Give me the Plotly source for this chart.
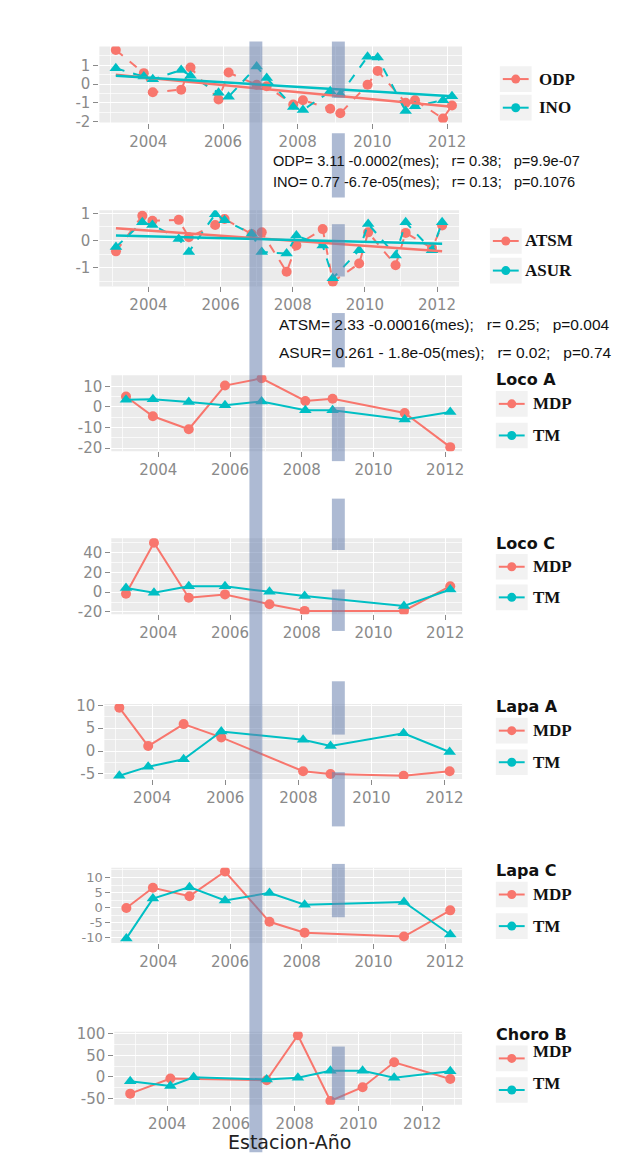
import plotly.graph_objects as go

W, H = 634, 1175
RED = '#F8766D'
TEAL = '#00BFC4'

# ---------------- data ----------------
p1_years = [2003.13, 2003.88, 2004.12, 2004.88, 2005.13, 2005.88, 2006.15, 2006.90, 2007.17, 2007.88,
            2008.14, 2008.87, 2009.14, 2009.87, 2010.14, 2010.89, 2011.14, 2011.89, 2012.13]
odp = [1.81, 0.58, -0.44, -0.30, 0.88, -0.82, 0.61, -0.04, -0.12, -1.09,
       -0.86, -1.32, -1.56, -0.04, 0.70, -1.00, -0.86, -1.84, -1.14]
ino = [0.84, 0.40, 0.25, 0.75, 0.44, -0.47, -0.68, 0.93, 0.32, -1.23,
       -1.39, -0.39, -0.56, 1.46, 1.42, -1.44, -1.18, -0.86, -0.65]
p1_trend_years = [2003.13, 2012.13]
odp_trend = [0.49, -1.21]
ino_trend = [0.44, -0.65]

p2_years = [2003.10, 2003.83, 2004.11, 2004.84, 2005.12, 2005.85, 2006.11, 2006.86, 2007.14, 2007.83,
            2008.10, 2008.83, 2009.11, 2009.84, 2010.09, 2010.85, 2011.13, 2011.86, 2012.14]
atsm = [-0.40, 0.91, 0.73, 0.76, 0.12, 0.57, 0.79, 0.24, 0.30, -1.15,
        -0.18, 0.42, -1.52, -0.85, 0.30, -0.91, 0.28, -0.28, 0.55]
asur = [-0.24, 0.67, 0.57, 0.06, -0.42, 0.97, 0.75, 0.24, -0.42, -0.48,
        0.18, -0.18, -1.39, -0.36, 0.61, -0.55, 0.67, -0.36, 0.67]
p2_trend_years = [2003.10, 2012.14]
atsm_trend = [0.45, -0.40]
asur_trend = [0.18, -0.12]

loco_a_years = [2003.10, 2003.85, 2004.85, 2005.86, 2006.88, 2008.10, 2008.86, 2010.87, 2012.14]
loco_a_mdp = [5.1, -4.5, -10.8, 10.4, 13.9, 2.9, 4.0, -2.9, -19.5]
loco_a_tm = [3.5, 3.7, 2.4, 0.8, 2.7, -1.6, -1.6, -6.1, -2.4]

loco_c_years = [2003.10, 2003.88, 2004.85, 2005.86, 2007.10, 2008.08, 2010.85, 2012.14]
loco_c_mdp = [-1.7, 50, -5.7, -2.3, -12.3, -19, -19, 6]
loco_c_tm = [4.3, -0.7, 6, 6, 0.3, -4, -14, 2.7]

lapa_a_years = [2003.10, 2003.89, 2004.86, 2005.89, 2008.13, 2008.88, 2010.88, 2012.14]
lapa_a_mdp = [9.5, 1.1, 5.9, 3.0, -4.4, -5.0, -5.4, -4.4]
lapa_a_tm = [-5.4, -3.4, -1.8, 4.3, 2.5, 1.1, 3.9, -0.2]

lapa_c_years = [2003.11, 2003.85, 2004.87, 2005.86, 2007.10, 2008.08, 2010.85, 2012.14]
lapa_c_mdp = [-0.1, 6.6, 3.8, 12, -4.7, -8.3, -9.6, -0.9]
lapa_c_tm = [-10.2, 3.0, 6.8, 2.4, 4.9, 1.0, 1.9, -8.9]

choro_b_mdp_years = [2002.84, 2004.10, 2007.12, 2008.10, 2009.12, 2010.13, 2011.12, 2012.88]
choro_b_mdp = [-39, -4, -8, 97, -56, -24, 34, -5]
choro_b_tm_years = [2002.84, 2004.10, 2004.83, 2007.12, 2008.10, 2009.12, 2010.13, 2011.12, 2012.88]
choro_b_tm = [-10, -21, -1, -6, -2, 14, 14, -2, 13]

year_ticks = [2004, 2006, 2008, 2010, 2012]
y_ticks = [
    [-2, -1, 0, 1],
    [-1, 0, 1],
    [-20, -10, 0, 10],
    [-20, 0, 20, 40],
    [-5, 0, 5, 10],
    [-10, -5, 0, 5, 10],
    [-50, 0, 50, 100],
]

eq_lines = [
    "ODP= 3.11 -0.0002(mes);   r= 0.38;   p=9.9e-07",
    "INO= 0.77 -6.7e-05(mes);   r= 0.13;   p=0.1076",
    "ATSM= 2.33 -0.00016(mes);   r= 0.25;   p=0.004",
    "ASUR= 0.261 - 1.8e-05(mes);   r= 0.02;   p=0.74",
]

# ---------------- layout config (pixels) ----------------
# (left, right, top, bottom, xrange, yrange, y tick font size)
panels = [
    (100, 465, 40, 117, [2002.69, 2012.40], [-2.05, 2.0], 15),
    (100, 462, 206, 283, [2002.64, 2012.61], [-1.69, 1.11], 15),
    (112, 465, 373, 450, [2002.69, 2012.47], [-21.5, 15.4], 15),
    (112, 465, 538, 615, [2002.69, 2012.47], [-22.3, 54.7], 15),
    (105, 465, 706, 782, [2002.69, 2012.48], [-6.1, 10.3], 15),
    (112, 465, 872, 948, [2002.69, 2012.47], [-11.7, 13.2], 13),
    (115, 465, 1038, 1112, [2002.34, 2013.25], [-65, 105], 15),
]

fig = go.Figure()

def xa(i):
    return 'x' if i == 0 else f'x{i+1}'

def ya(i):
    return 'y' if i == 0 else f'y{i+1}'

def add_series(i, xs, ys, color, symbol, dash):
    fig.add_trace(go.Scatter(
        x=xs, y=ys, mode='lines+markers', xaxis=xa(i), yaxis=ya(i),
        line=dict(color=color, width=2, dash=dash),
        marker=dict(color=color, size=10 if symbol == 'circle' else 11, symbol=symbol),
        showlegend=False, hoverinfo='skip'))

def add_trend(i, xs, ys, color):
    fig.add_trace(go.Scatter(
        x=xs, y=ys, mode='lines', xaxis=xa(i), yaxis=ya(i),
        line=dict(color=color, width=2.5), showlegend=False, hoverinfo='skip'))

add_series(0, p1_years, odp, RED, 'circle', 'dash')
add_series(0, p1_years, ino, TEAL, 'triangle-up', 'dash')
add_trend(0, p1_trend_years, odp_trend, RED)
add_trend(0, p1_trend_years, ino_trend, TEAL)

add_series(1, p2_years, atsm, RED, 'circle', 'dash')
add_series(1, p2_years, asur, TEAL, 'triangle-up', 'dash')
add_trend(1, p2_trend_years, atsm_trend, RED)
add_trend(1, p2_trend_years, asur_trend, TEAL)

add_series(2, loco_a_years, loco_a_mdp, RED, 'circle', 'solid')
add_series(2, loco_a_years, loco_a_tm, TEAL, 'triangle-up', 'solid')
add_series(3, loco_c_years, loco_c_mdp, RED, 'circle', 'solid')
add_series(3, loco_c_years, loco_c_tm, TEAL, 'triangle-up', 'solid')
add_series(4, lapa_a_years, lapa_a_mdp, RED, 'circle', 'solid')
add_series(4, lapa_a_years, lapa_a_tm, TEAL, 'triangle-up', 'solid')
add_series(5, lapa_c_years, lapa_c_mdp, RED, 'circle', 'solid')
add_series(5, lapa_c_years, lapa_c_tm, TEAL, 'triangle-up', 'solid')
add_series(6, choro_b_mdp_years, choro_b_mdp, RED, 'circle', 'solid')
add_series(6, choro_b_tm_years, choro_b_tm, TEAL, 'triangle-up', 'solid')

TICKFONT = 'DejaVu Sans, Verdana, sans-serif'
layout = dict(
    width=W, height=H, margin=dict(l=0, r=0, t=0, b=0, pad=0), autosize=False,
    paper_bgcolor='white', plot_bgcolor='rgba(0,0,0,0)', showlegend=False,
    font=dict(family='Liberation Sans, Arial, sans-serif'),
)

TICKC = '#8a8a8a'
shapes = []
for i, (l, r, t, b, xr, yr, yfs) in enumerate(panels):
    xk = 'xaxis' if i == 0 else f'xaxis{i+1}'
    yk = 'yaxis' if i == 0 else f'yaxis{i+1}'
    yt = y_ticks[i]
    step = yt[1] - yt[0]
    layout[xk] = dict(
        domain=[l / W, r / W], range=xr, anchor=ya(i),
        tickvals=year_ticks, ticktext=[str(v) for v in year_ticks],
        ticks='outside', ticklen=5, tickcolor=TICKC, tickwidth=1.2,
        tickfont=dict(size=15, color=TICKC, family=TICKFONT),
        showgrid=True, gridcolor='white', gridwidth=1.3, zeroline=False, showline=False,
        minor=dict(tickvals=[2003, 2005, 2007, 2009, 2011, 2013], showgrid=True,
                   gridcolor='rgba(255,255,255,0.7)', gridwidth=0.6),
    )
    layout[yk] = dict(
        domain=[1 - b / H, 1 - t / H], range=yr, anchor=xa(i),
        tickvals=yt, ticktext=[str(v) for v in yt],
        ticks='outside', ticklen=5, tickcolor=TICKC, tickwidth=1.2,
        tickfont=dict(size=yfs, color=TICKC, family=TICKFONT),
        showgrid=True, gridcolor='white', gridwidth=1.3, zeroline=False, showline=False,
        minor=dict(dtick=step / 2, tick0=step / 2, showgrid=True,
                   gridcolor='rgba(255,255,255,0.7)', gridwidth=0.6),
    )
    shapes.append(dict(type='rect', xref=f'{xa(i)} domain', yref=f'{ya(i)} domain',
                       x0=0, x1=1, y0=0, y1=1, fillcolor='#EBEBEB',
                       line=dict(width=0), layer='below'))

# overlay axis in pixel coordinates
layout['xaxis8'] = dict(domain=[0, 1], range=[0, W], visible=False, anchor='y8', fixedrange=True)
layout['yaxis8'] = dict(domain=[0, 1], range=[H, 0], visible=False, anchor='x8', fixedrange=True)
fig.update_layout(**layout)

# bands
BAND = 'rgba(105,130,175,0.55)'
shapes.append(dict(type='rect', xref='x8', yref='y8', x0=251, x1=264, y0=35, y1=1160,
                   fillcolor=BAND, line=dict(width=0), layer='above'))
band2_segments = [(35, 92), (128, 193), (220, 273), (310, 365), (405, 460), (498, 550),
                  (590, 632), (683, 737), (775, 830), (868, 922), (1053, 1107)]
for y0, y1 in band2_segments:
    shapes.append(dict(type='rect', xref='x8', yref='y8', x0=334, x1=347, y0=y0, y1=y1,
                       fillcolor=BAND, line=dict(width=0), layer='above'))

# legends
annotations = []
SERIF = 'Liberation Serif, Times New Roman, serif'
legend_blocks = [
    # (title, title_y, label1, y1, label2, y2, key_left, text_left)
    (None, None, 'ODP', 73, 'INO', 102, 504, 540),
    (None, None, 'ATSM', 237, 'ASUR', 267, 494, 526),
    ('Loco A', 377, 'MDP', 402, 'TM', 434, 500, 534),
    ('Loco C', 543, 'MDP', 567, 'TM', 598, 500, 534),
    ('Lapa A', 709, 'MDP', 733, 'TM', 765, 500, 534),
    ('Lapa C', 875, 'MDP', 899, 'TM', 931, 500, 534),
    ('Choro B', 1041, 'MDP', 1058, 'TM', 1090, 500, 534),
]
for title, ty, l1, y1, l2, y2, kx, tx in legend_blocks:
    if title:
        annotations.append(dict(xref='x8', yref='y8', x=497, y=ty, text=f'<b>{title}</b>',
                                showarrow=False, xanchor='left', yanchor='middle',
                                font=dict(size=16, color='#111', family=TICKFONT)))
    for lab, yy, col in [(l1, y1, RED), (l2, y2, TEAL)]:
        key_y = yy + (7 if title == 'Choro B' else 0)
        shapes.append(dict(type='rect', xref='x8', yref='y8', x0=kx - 1, x1=kx + 31,
                           y0=key_y - 13, y1=key_y + 13, fillcolor='#F2F2F2',
                           line=dict(width=0), layer='below'))
        fig.add_trace(go.Scatter(x=[kx + 2, kx + 28], y=[key_y, key_y], mode='lines', xaxis='x8', yaxis='y8',
                                 line=dict(color=col, width=2), showlegend=False, hoverinfo='skip'))
        fig.add_trace(go.Scatter(x=[kx + 15], y=[key_y], mode='markers', xaxis='x8', yaxis='y8',
                                 marker=dict(color=col, size=9, symbol='circle'),
                                 showlegend=False, hoverinfo='skip'))
        annotations.append(dict(xref='x8', yref='y8', x=tx, y=yy, text=f'<b>{lab}</b>',
                                showarrow=False, xanchor='left', yanchor='middle',
                                bgcolor='white' if title == 'Choro B' and lab == 'MDP' else None,
                                font=dict(size=17, color='#111', family=SERIF)))

# equations
for txt, x, y, fs in [(eq_lines[0], 273, 156, 14.6), (eq_lines[1], 273, 177, 14.6),
                      (eq_lines[2], 279, 322, 15.5), (eq_lines[3], 279, 350, 15.5)]:
    annotations.append(dict(xref='x8', yref='y8', x=x, y=y, text=txt.replace(' ', '\u00a0'),
                            showarrow=False, xanchor='left', yanchor='middle',
                            font=dict(size=fs, color='#111', family='Liberation Sans, Arial')))

annotations.append(dict(xref='x8', yref='y8', x=292, y=1150, text='Estacion-Año', showarrow=False,
                        xanchor='center', yanchor='middle',
                        font=dict(size=19, color='#222', family=TICKFONT)))

fig.update_layout(shapes=shapes, annotations=annotations)
fig.write_html('out.html', config={'displayModeBar': False},
               post_script="document.body.style.margin='0';document.body.style.overflow='hidden';")
